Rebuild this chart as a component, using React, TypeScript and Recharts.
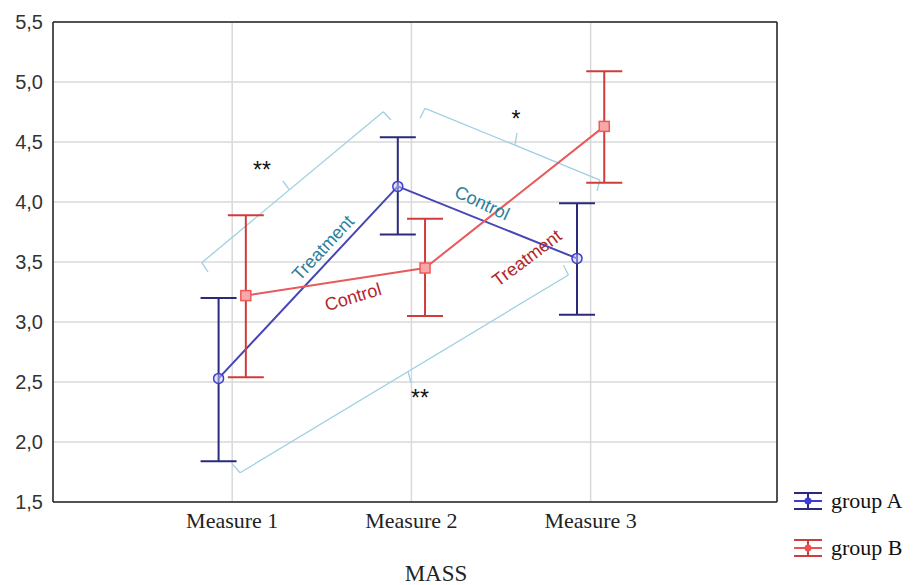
import React from "react";
import {
    ComposedChart,
    Line,
    XAxis,
    YAxis,
    CartesianGrid,
    ErrorBar,
    ReferenceLine,
    ReferenceDot,
    Legend,
} from "recharts";

const categories = ["Measure 1", "Measure 2", "Measure 3"];
const yTicks = [1.5, 2, 2.5, 3, 3.5, 4, 4.5, 5, 5.5];

const groupAMean = [2.53, 4.13, 3.53];
const groupALow = [1.84, 3.73, 3.06];
const groupAHigh = [3.2, 4.54, 3.99];

const groupBMean = [3.22, 3.45, 4.63];
const groupBLow = [2.54, 3.05, 4.16];
const groupBHigh = [3.89, 3.86, 5.09];

// small side-by-side dodge so the error bars don't overlap
const DODGE = 0.076;

const build = (mean: number[], low: number[], high: number[], shift: number) =>
    mean.map((m, i) => ({
        x: i + 1 + shift,
        mean: m,
        err: [m - low[i], high[i] - m],
    }));

const rowsA = build(groupAMean, groupALow, groupAHigh, -DODGE);
const rowsB = build(groupBMean, groupBLow, groupBHigh, DODGE);

// annotation brackets, in data units
const brackets = [
    [[0.865, 3.417], [0.83, 3.494], [1.843, 4.752], [1.886, 4.683]],
    [[1.317, 4.106], [1.283, 4.175]],
    [[2.048, 4.698], [2.076, 4.781], [3.052, 4.183], [3.036, 4.092]],
    [[2.578, 4.475], [2.589, 4.575]],
    [[0.997, 1.822], [1.044, 1.744], [2.876, 3.392], [2.848, 3.475]],
    [[1.981, 2.588], [1.998, 2.492]],
];

const notes = [
    {x: 1.166, y: 4.27, text: "**", angle: 0, color: "#111", size: 23},
    {x: 2.584, y: 4.695, text: "*", angle: 0, color: "#111", size: 23},
    {x: 2.048, y: 2.37, text: "**", angle: 0, color: "#111", size: 23},
    {x: 1.507, y: 3.617, text: "Treatment", angle: -47, color: "#2c7f9c", size: 18},
    {x: 1.674, y: 3.208, text: "Control", angle: -17, color: "#b3262b", size: 18},
    {x: 2.394, y: 3.992, text: "Control", angle: 25, color: "#2c7f9c", size: 18},
    {x: 2.645, y: 3.533, text: "Treatment", angle: -37, color: "#b3262b", size: 18},
];

const legendItems = [
    {name: "group A", bar: "#2a2a7a", dot: "#3b3bd8"},
    {name: "group B", bar: "#d03c3c", dot: "#f05050"},
];

const CircleDot = (props: any) => {
    const {cx, cy} = props;
    return <circle cx={cx} cy={cy} r={5} stroke="#3b3bd8" strokeWidth={1.5} fill="#c8c8f4" fillOpacity={0.5}/>;
};

const SquareDot = (props: any) => {
    const {cx, cy} = props;
    return <rect x={cx - 5} y={cy - 5} width={10} height={10} stroke="#f05a5a" strokeWidth={1.5} fill="#f8a8a8"/>;
};

const LegendBox = () => (
    <div style={{fontFamily: "'Liberation Serif', serif", fontSize: 22, color: "#111"}}>
        {legendItems.map((it) => (
            <div key={it.name} style={{display: "flex", alignItems: "center", height: 47}}>
                <svg width={38} height={22}>
                    <line x1={4} x2={32} y1={3} y2={3} stroke={it.bar} strokeWidth={2}/>
                    <line x1={4} x2={32} y1={11} y2={11} stroke={it.dot} strokeWidth={2}/>
                    <line x1={4} x2={32} y1={19} y2={19} stroke={it.bar} strokeWidth={2}/>
                    <line x1={18} x2={18} y1={3} y2={19} stroke={it.bar} strokeWidth={2}/>
                    <circle cx={18} cy={11} r={3.5} fill={it.dot}/>
                </svg>
                <span style={{marginLeft: 3}}>{it.name}</span>
            </div>
        ))}
    </div>
);

export default function App() {
    return (
        <div style={{position: "absolute", left: 0, top: 0, background: "#fff"}}>
            <ComposedChart
                width={916}
                height={585}
                margin={{top: 22, right: 139, left: 0, bottom: 0}}
            >
                <CartesianGrid stroke="#d9d9d9" strokeWidth={1.5}/>
                <XAxis
                    type="number"
                    dataKey="x"
                    domain={[0, 4.04]}
                    ticks={[1, 2, 3]}
                    tickFormatter={(v) => categories[v - 1]}
                    height={83}
                    tickLine={false}
                    tickMargin={4}
                    axisLine={{stroke: "#222", strokeWidth: 1.5}}
                    tick={{fill: "#222", fontSize: 22, fontFamily: "'Liberation Serif', serif"}}
                    label={{
                        value: "MASS",
                        position: "insideBottom",
                        offset: 4,
                        dx: 21,
                        fill: "#222",
                        fontSize: 23,
                        fontFamily: "'Liberation Serif', serif",
                    }}
                />
                <YAxis
                    type="number"
                    domain={[1.5, 5.5]}
                    ticks={yTicks}
                    width={53}
                    tickLine={false}
                    tickMargin={4}
                    axisLine={{stroke: "#222", strokeWidth: 1.5}}
                    tickFormatter={(v) => v.toFixed(1).replace(".", ",")}
                    tick={{fill: "#333", fontSize: 20, fontFamily: "'Liberation Sans', Arial, sans-serif"}}
                />
                <ReferenceLine y={5.5} stroke="#222" strokeWidth={1.5}/>
                <ReferenceLine x={4.04} stroke="#222" strokeWidth={1.5}/>

                {brackets.map((pts, bi) =>
                    pts.slice(1).map((p, i) => (
                        <ReferenceLine
                            key={`b${bi}-${i}`}
                            segment={[{x: pts[i][0], y: pts[i][1]}, {x: p[0], y: p[1]}]}
                            stroke="#9fd0e2"
                            strokeWidth={1.3}
                            ifOverflow="visible"
                        />
                    ))
                )}

                <Line
                    data={rowsA}
                    dataKey="mean"
                    name="group A"
                    stroke="#4646b4"
                    strokeWidth={2}
                    dot={<CircleDot/>}
                    activeDot={false}
                    isAnimationActive={false}
                >
                    <ErrorBar dataKey="err" direction="y" width={18} stroke="#2a2a7a" strokeWidth={2}/>
                </Line>
                <Line
                    data={rowsB}
                    dataKey="mean"
                    name="group B"
                    stroke="#e85a5c"
                    strokeWidth={2}
                    dot={<SquareDot/>}
                    activeDot={false}
                    isAnimationActive={false}
                >
                    <ErrorBar dataKey="err" direction="y" width={18} stroke="#d03c3c" strokeWidth={2}/>
                </Line>

                {notes.map((n, i) => (
                    <ReferenceDot
                        key={`n${i}`}
                        x={n.x}
                        y={n.y}
                        ifOverflow="visible"
                        shape={(p: any) => (
                            <text
                                x={p.cx}
                                y={p.cy}
                                transform={`rotate(${n.angle} ${p.cx} ${p.cy})`}
                                textAnchor="middle"
                                dominantBaseline="central"
                                fill={n.color}
                                fontSize={n.size}
                                fontFamily="'Liberation Sans', Arial, sans-serif"
                            >
                                {n.text}
                            </text>
                        )}
                    />
                ))}

                <Legend
                    layout="vertical"
                    align="center"
                    verticalAlign="middle"
                    content={<LegendBox/>}
                    wrapperStyle={{left: 790, top: 477, width: 126}}
                />
            </ComposedChart>
        </div>
    );
}
